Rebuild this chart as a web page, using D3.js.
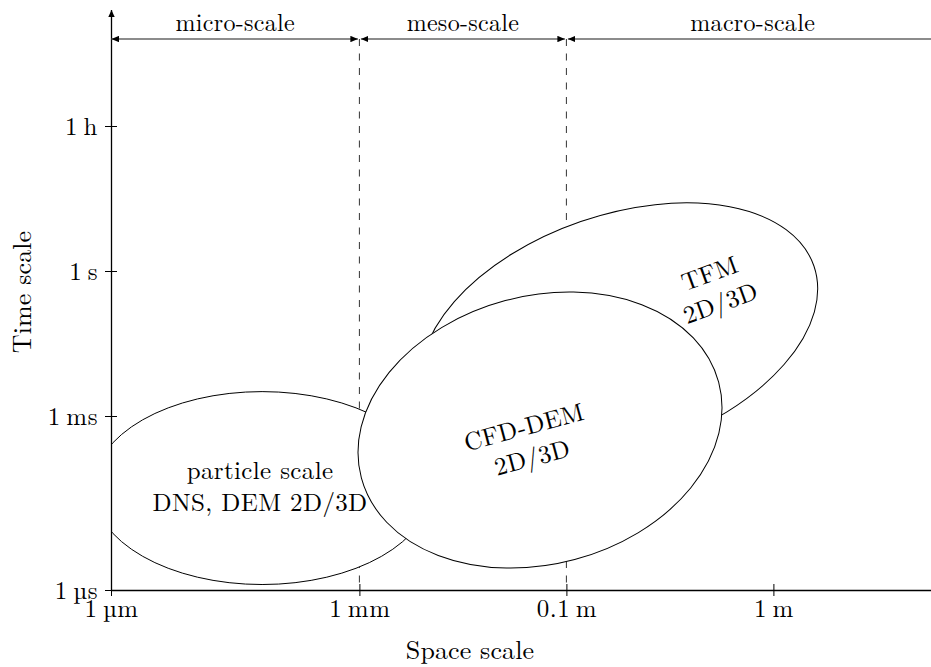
<!DOCTYPE html>
<html>
<head>
<meta charset="utf-8">
<script src="https://cdn.jsdelivr.net/npm/d3@7"></script>
<style>
  html, body { margin: 0; padding: 0; background: #fff; }
  svg { display: block; }
  text { font-family: "Latin Modern Roman", "CMU Serif", "Liberation Serif", "Times New Roman", serif; fill: #000; }
</style>
</head>
<body>
<svg id="chart" width="931" height="667"></svg>
<script>
// Axis positions are in drawing units; tick labels name the physical scale.
const xTickPos = [0, 2.4, 4.4, 6.4];
const xTickLabels = ["1\u2009µm", "1\u2009mm", "0.1\u2009m", "1\u2009m"];
const yTickPos = [0, 1.2, 2.2, 3.2];
const yTickLabels = ["1\u2009µs", "1\u2009ms", "1\u2009s", "1\u2009h"];

// Space-scale regimes along the top band
const regionNames = ["micro-scale", "meso-scale", "macro-scale"];
const regionStart = [0, 2.4, 4.4];
const regionEnd = [2.4, 4.4, 8];

// Modelling approaches: each covers an elliptical region of space/time scales
const methodLines = [["particle scale", "DNS, DEM 2D/3D"], ["TFM", "2D/3D"], ["CFD-DEM", "2D/3D"]];
const methodCx = [1.46, 4.91, 4.145];
const methodCy = [0.703, 1.772, 1.103];
const methodRx = [1.633, 1.99, 1.787];
const methodRy = [0.932, 1.14, 1.295];
const methodTilt = [0, 19, 15];
const methodLabelX = [1.44, 5.836, 4.03];
const methodLabelY = [0.717, 2.083, 1.021];
const methodLabelTilt = [0, 20, 15];

const svg = d3.select("#chart");
const W = 931, H = 667;

const x = d3.scaleLinear().domain([0, 8]).range([111, 939]);
const y = d3.scaleLinear().domain([0, 4]).range([590, 10]);
const unit = x(1) - x(0);
const bandY = 3.8;

// arrowheads
const defs = svg.append("defs");
function marker(id, len, half) {
  defs.append("marker")
    .attr("id", id)
    .attr("viewBox", `0 ${-half} ${len} ${2 * half}`)
    .attr("refX", len).attr("refY", 0)
    .attr("markerWidth", len).attr("markerHeight", 2 * half)
    .attr("markerUnits", "userSpaceOnUse")
    .attr("orient", "auto-start-reverse")
    .append("path")
    .attr("d", `M0,${-half}L${len},0L0,${half}Z`)
    .attr("fill", "#000");
}
marker("axisArrow", 7, 3.2);
marker("bandArrow", 7.5, 3.2);

defs.append("clipPath").attr("id", "plotClip")
  .append("rect")
  .attr("x", x(0)).attr("y", y(4))
  .attr("width", W - x(0)).attr("height", y(0) - y(4));

// regime boundaries
svg.append("g").selectAll("line")
  .data(regionStart.slice(1))
  .join("line")
  .attr("x1", d => x(d)).attr("x2", d => x(d))
  .attr("y1", y(bandY)).attr("y2", y(0))
  .attr("stroke", "#333").attr("stroke-width", 1)
  .attr("stroke-dasharray", "7,7.5");

// method regions
const regions = svg.append("g").attr("clip-path", "url(#plotClip)");
methodCx.forEach((cx, i) => {
  regions.append("ellipse")
    .attr("transform", `translate(${x(cx)},${y(methodCy[i])}) rotate(${-methodTilt[i]})`)
    .attr("rx", methodRx[i] * unit)
    .attr("ry", methodRy[i] * unit)
    .attr("fill", "#fff")
    .attr("stroke", "#000")
    .attr("stroke-width", 1);
});

// axes
const xAxis = d3.axisBottom(x)
  .tickValues(xTickPos)
  .tickFormat((d, i) => xTickLabels[i])
  .tickSizeOuter(0);
const gx = svg.append("g").attr("transform", `translate(0,${y(0)})`).call(xAxis);
gx.select(".domain").remove();
gx.attr("font-size", 25).attr("font-family", null);
gx.selectAll(".tick line").attr("y1", -6).attr("y2", 6).attr("stroke-width", 1);
gx.selectAll(".tick text").attr("y", 9).attr("dy", "0.71em").attr("letter-spacing", 0.5);

const yAxis = d3.axisLeft(y)
  .tickValues(yTickPos)
  .tickFormat((d, i) => yTickLabels[i])
  .tickSizeOuter(0);
const gy = svg.append("g").attr("transform", `translate(${x(0)},0)`).call(yAxis);
gy.select(".domain").remove();
gy.attr("font-size", 25).attr("font-family", null);
gy.selectAll(".tick line").attr("x1", -6).attr("x2", 6).attr("stroke-width", 1);
gy.selectAll(".tick text").attr("x", -13).attr("dy", "0.33em").attr("letter-spacing", 0.5);

svg.append("line")
  .attr("x1", x(0) + 0.5).attr("x2", x(8))
  .attr("y1", y(0) + 0.5).attr("y2", y(0) + 0.5)
  .attr("stroke", "#000").attr("stroke-width", 1.3);
svg.append("line")
  .attr("x1", x(0) + 0.5).attr("x2", x(0) + 0.5)
  .attr("y1", y(0) + 0.5).attr("y2", y(4))
  .attr("stroke", "#000").attr("stroke-width", 1.3)
  .attr("marker-end", "url(#axisArrow)");

// regime band (the last regime is open-ended beyond the drawing)
const band = svg.append("g");
regionNames.forEach((name, i) => {
  const line = band.append("line")
    .attr("x1", x(regionStart[i]) + (i === 0 ? 0.5 : 1.5))
    .attr("x2", x(regionEnd[i]) - 1.5)
    .attr("y1", y(bandY)).attr("y2", y(bandY))
    .attr("stroke", "#666").attr("stroke-width", 1.4)
    .attr("marker-start", "url(#bandArrow)");
  if (x(regionEnd[i]) <= W) line.attr("marker-end", "url(#bandArrow)");
  band.append("text")
    .attr("x", x((regionStart[i] + regionEnd[i]) / 2))
    .attr("y", y(bandY) - 8)
    .attr("text-anchor", "middle")
    .attr("font-size", 24)
    .attr("letter-spacing", 0.3)
    .text(name);
});

// method labels
methodLines.forEach((lines, i) => {
  const g = svg.append("g")
    .attr("transform", `translate(${x(methodLabelX[i])},${y(methodLabelY[i])}) rotate(${-methodLabelTilt[i]})`);
  lines.forEach((t, j) => {
    g.append("text")
      .attr("x", 0)
      .attr("y", (j - (lines.length - 1) / 2) * 31.5)
      .attr("dy", "0.35em")
      .attr("text-anchor", "middle")
      .attr("font-size", 25)
      .attr("letter-spacing", 0.35)
      .text(t);
  });
});

// axis titles
svg.append("text")
  .attr("x", 470).attr("y", 659)
  .attr("text-anchor", "middle")
  .attr("font-size", 26)
  .attr("letter-spacing", 0.1)
  .text("Space scale");
svg.append("text")
  .attr("transform", "translate(31,292) rotate(-90)")
  .attr("text-anchor", "middle")
  .attr("font-size", 26)
  .attr("letter-spacing", 0.1)
  .text("Time scale");
</script>
</body>
</html>
